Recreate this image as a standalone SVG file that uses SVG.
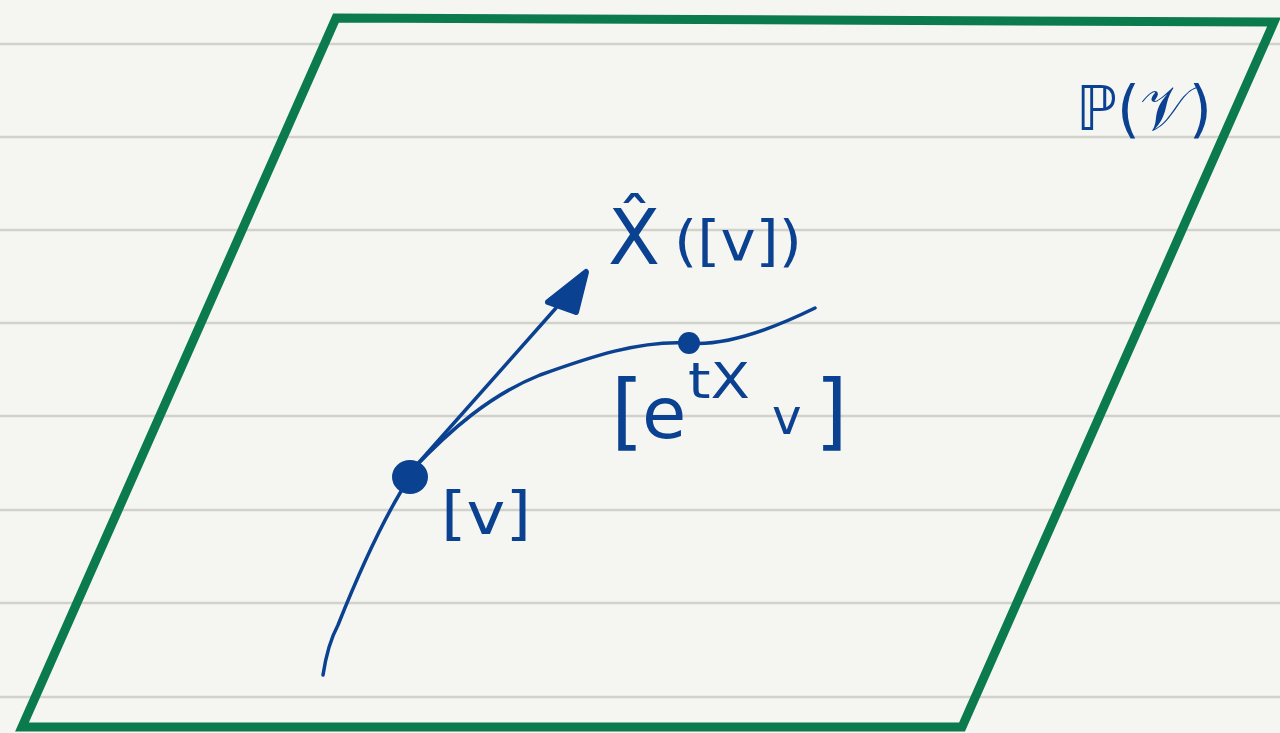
<svg xmlns="http://www.w3.org/2000/svg" width="1280" height="733" viewBox="0 0 1280 733">
<style>
.rule{stroke:#d2d2cc;stroke-width:2.5}
.ink{fill:none;stroke:#0b4191;stroke-width:3.5;stroke-linecap:round;stroke-linejoin:round}
.lbl{fill:#0b4191;font-family:"DejaVu Sans",sans-serif}
</style>
<rect width="1280" height="733" fill="#f5f6f1"/>
<g id="rules">
<line class="rule" x1="0" y1="44" x2="1280" y2="44"/>
<line class="rule" x1="0" y1="137" x2="1280" y2="137"/>
<line class="rule" x1="0" y1="230" x2="1280" y2="230"/>
<line class="rule" x1="0" y1="323" x2="1280" y2="323"/>
<line class="rule" x1="0" y1="416" x2="1280" y2="416"/>
<line class="rule" x1="0" y1="510" x2="1280" y2="510"/>
<line class="rule" x1="0" y1="603" x2="1280" y2="603"/>
<line class="rule" x1="0" y1="697" x2="1280" y2="697"/>
</g>
<g id="plane">
<polygon points="336,18 1274,22 962,727 22,727" fill="none" stroke="#0b7a4c" stroke-width="9" stroke-linejoin="miter"/>
<text class="lbl" x="1076" y="130" font-size="62" textLength="136" lengthAdjust="spacingAndGlyphs">ℙ(𝒱)</text>
</g>
<g id="connectors">
<path class="ink" d="M323,675 C326,655 330,640 338,625 C360,570 385,515 410,477"/>
<path class="ink" d="M412,470 C450,430 490,395 540,375 C590,357 640,340 688,343 C720,346 760,335 815,308"/>
<path class="ink" d="M414,468 L556,308"/>
<polygon points="586,272 576,312 548,302" fill="#0b4191" stroke="#0b4191" stroke-width="6" stroke-linejoin="round"/>
</g>
<g id="point-v">
<ellipse cx="410" cy="477" rx="18" ry="17" fill="#0b4191"/>
<text class="lbl" x="441" y="534" font-size="58" textLength="90" lengthAdjust="spacingAndGlyphs">[v]</text>
</g>
<g id="point-etx">
<circle cx="689" cy="343" r="11" fill="#0b4191"/>
<text class="lbl" x="611" y="440" font-size="84">[</text>
<text class="lbl" x="642" y="438" font-size="72">e</text>
<text class="lbl" x="688" y="398" font-size="50" textLength="62" lengthAdjust="spacingAndGlyphs">tX</text>
<text class="lbl" x="772" y="434" font-size="50">v</text>
<text class="lbl" x="815" y="440" font-size="84">]</text>
</g>
<g id="vector-label">
<text class="lbl" x="608" y="264" font-size="76">X̂</text>
<text class="lbl" x="674" y="260" font-size="56" textLength="128" lengthAdjust="spacingAndGlyphs">([v])</text>
</g>
</svg>
